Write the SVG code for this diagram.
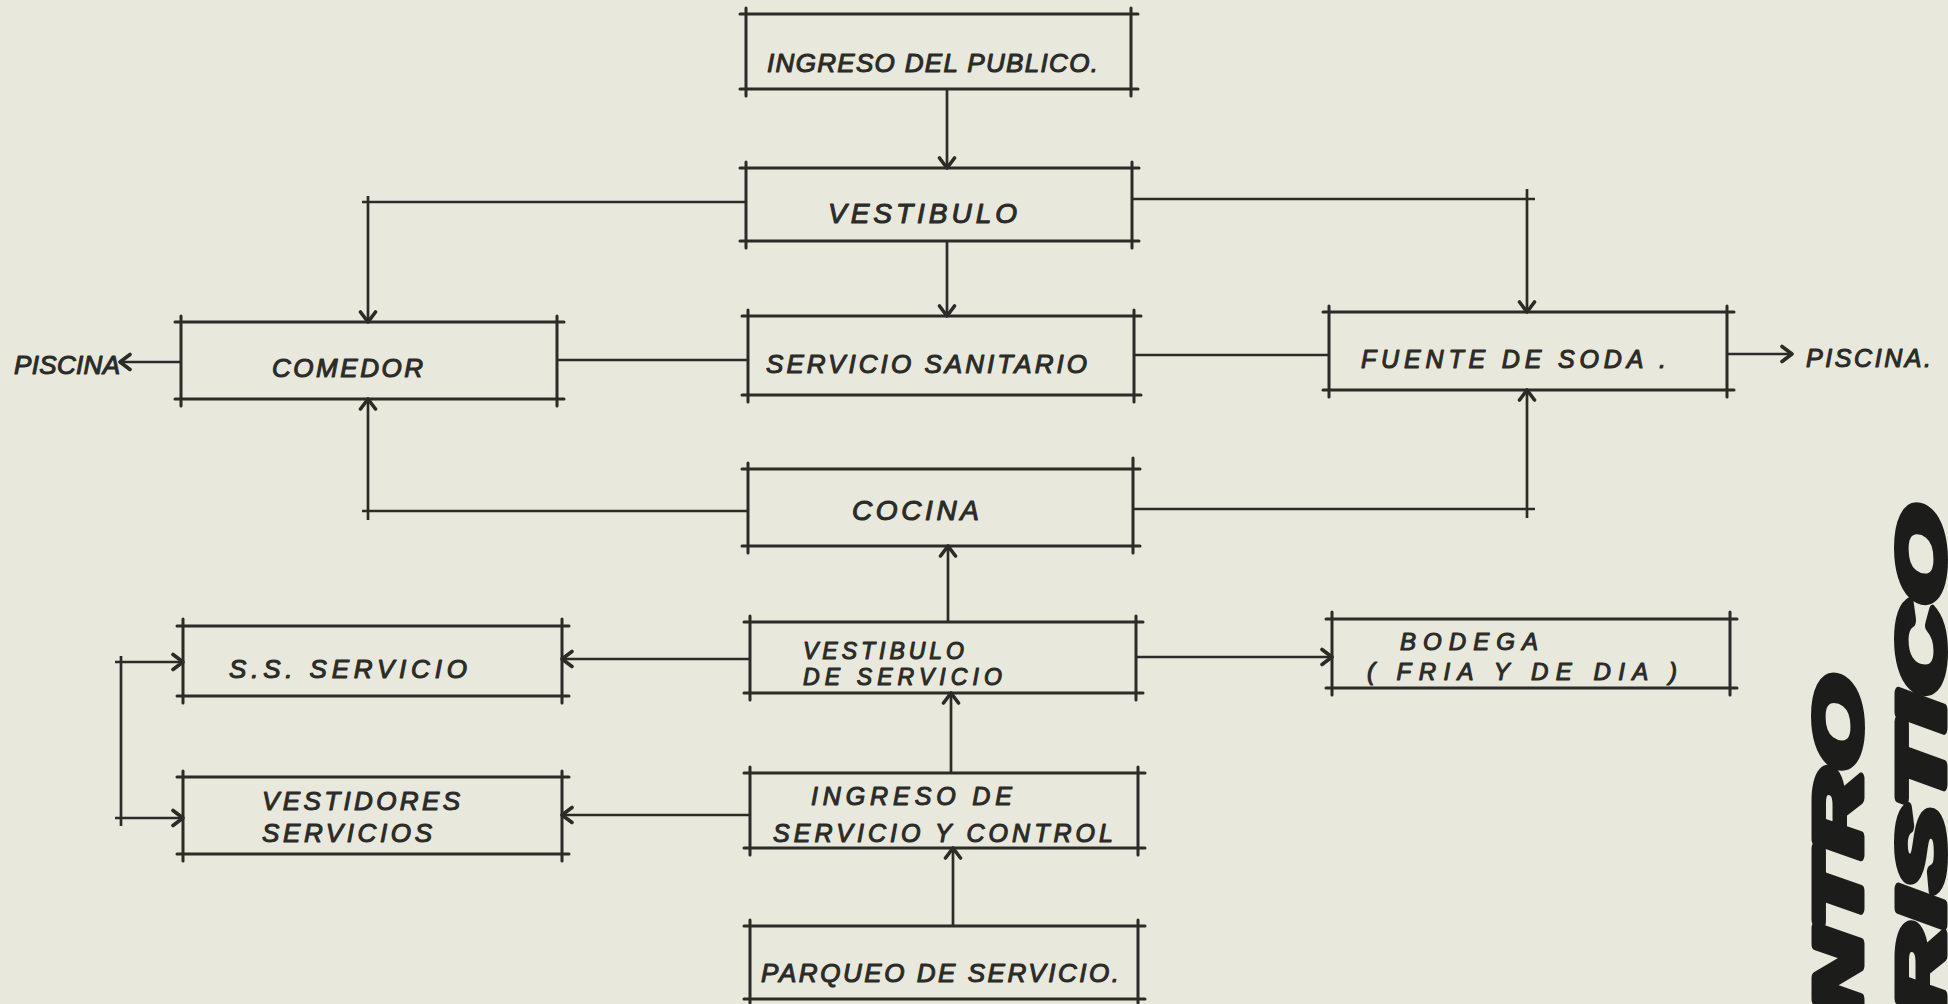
<svg xmlns="http://www.w3.org/2000/svg" width="1948" height="1004" viewBox="0 0 1948 1004">
<style>
.bg{fill:#e9e8dc}
.box{fill:none;stroke:#2b2b28;stroke-width:3;stroke-linecap:round}
.con{fill:none;stroke:#2b2b28;stroke-width:2.7}
.t{font-family:"Liberation Sans",Arial,sans-serif;font-style:italic;fill:#2b2b28;stroke:#2b2b28;stroke-width:1.1;stroke-linejoin:round}
.big{font-family:"Liberation Sans",Arial,sans-serif;font-style:italic;font-weight:bold;fill:#1c1c1a;stroke:#1c1c1a;stroke-width:7;stroke-linejoin:round}
</style>
<defs>
<marker id="ah" viewBox="-14 -10 16 20" refX="0" refY="0" markerWidth="16" markerHeight="20" markerUnits="userSpaceOnUse" orient="auto">
<path d="M-10,-7.5 L0,0 L-10,7.5" fill="none" stroke="#2b2b28" stroke-width="3.6" stroke-linecap="round" stroke-linejoin="round"/>
</marker>
</defs>
<rect class="bg" x="0" y="0" width="1948" height="1004"/>

<g id="connectors">
<path class="con" d="M947,89 V168" marker-end="url(#ah)"/>
<path class="con" d="M947,241 V316" marker-end="url(#ah)"/>
<path class="con" d="M746,202 H362"/>
<path class="con" d="M368,196 V322" marker-end="url(#ah)"/>
<path class="con" d="M1132,199 H1535"/>
<path class="con" d="M1527,189 V312" marker-end="url(#ah)"/>
<path class="con" d="M557,360 H748"/>
<path class="con" d="M1134,355 H1329"/>
<path class="con" d="M181,362 H120" marker-end="url(#ah)"/>
<path class="con" d="M1727,354 H1792" marker-end="url(#ah)"/>
<path class="con" d="M748,511 H362"/>
<path class="con" d="M368,520 V399" marker-end="url(#ah)"/>
<path class="con" d="M1133,509 H1535"/>
<path class="con" d="M1527,518 V390" marker-end="url(#ah)"/>
<path class="con" d="M948,622 V546" marker-end="url(#ah)"/>
<path class="con" d="M750,659 H562" marker-end="url(#ah)"/>
<path class="con" d="M1136,657 H1332" marker-end="url(#ah)"/>
<path class="con" d="M951,773 V693" marker-end="url(#ah)"/>
<path class="con" d="M750,815 H562" marker-end="url(#ah)"/>
<path class="con" d="M953,926 V848" marker-end="url(#ah)"/>
<path class="con" d="M121,656 V826"/>
<path class="con" d="M115,662 H183" marker-end="url(#ah)"/>
<path class="con" d="M115,818 H183" marker-end="url(#ah)"/>
</g>

<g id="n-ingreso-publico">
<path class="box" d="M740,14 H1138 M740,89 H1138 M746,8 V96 M1131,8 V96"/>
<text class="t" x="767" y="72" font-size="26" textLength="331" lengthAdjust="spacing">INGRESO DEL PUBLICO.</text>
</g>
<g id="n-vestibulo">
<path class="box" d="M740,168 H1139 M740,241 H1139 M746,162 V248 M1132,162 V248"/>
<text class="t" x="828" y="223" font-size="28" textLength="189" lengthAdjust="spacing">VESTIBULO</text>
</g>
<g id="n-comedor">
<path class="box" d="M175,322 H564 M175,399 H564 M181,316 V406 M557,316 V406"/>
<text class="t" x="272" y="377" font-size="26" textLength="151" lengthAdjust="spacing">COMEDOR</text>
</g>
<g id="n-piscina-izq">
<text class="t" x="14" y="374" font-size="26" textLength="106" lengthAdjust="spacing">PISCINA</text>
</g>
<g id="n-servicio-sanitario">
<path class="box" d="M742,316 H1141 M742,395 H1141 M748,310 V402 M1134,310 V402"/>
<text class="t" x="766" y="373" font-size="26" textLength="321" lengthAdjust="spacing">SERVICIO  SANITARIO</text>
</g>
<g id="n-fuente-soda">
<path class="box" d="M1323,312 H1734 M1323,390 H1734 M1329,306 V397 M1727,306 V397"/>
<text class="t" x="1361" y="368" font-size="25" textLength="305" lengthAdjust="spacing">FUENTE  DE  SODA  .</text>
</g>
<g id="n-piscina-der">
<text class="t" x="1806" y="367" font-size="25" textLength="125" lengthAdjust="spacing">PISCINA.</text>
</g>
<g id="n-cocina">
<path class="box" d="M742,469 H1140 M742,546 H1140 M748,463 V553 M1133,458 V553"/>
<text class="t" x="852" y="520" font-size="28" textLength="127" lengthAdjust="spacing">COCINA</text>
</g>
<g id="n-ss-servicio">
<path class="box" d="M177,626 H569 M177,696 H569 M183,619 V703 M562,619 V703"/>
<text class="t" x="229" y="678" font-size="26" textLength="238" lengthAdjust="spacing">S.S.  SERVICIO</text>
</g>
<g id="n-vestibulo-servicio">
<path class="box" d="M744,622 H1143 M744,693 H1143 M750,616 V700 M1136,616 V700"/>
<text class="t" x="803" y="659" font-size="23" textLength="161" lengthAdjust="spacing">VESTIBULO</text>
<text class="t" x="803" y="685" font-size="23" textLength="199" lengthAdjust="spacing">DE  SERVICIO</text>
</g>
<g id="n-bodega">
<path class="box" d="M1326,619 H1737 M1326,688 H1737 M1332,612 V695 M1730,612 V695"/>
<text class="t" x="1400" y="650" font-size="24" textLength="138" lengthAdjust="spacing">BODEGA</text>
<text class="t" x="1367" y="680" font-size="24" textLength="310" lengthAdjust="spacing">(  FRIA  Y  DE  DIA  )</text>
</g>
<g id="n-vestidores">
<path class="box" d="M177,777 H569 M177,854 H569 M183,771 V861 M562,771 V861"/>
<text class="t" x="262" y="810" font-size="26" textLength="198" lengthAdjust="spacing">VESTIDORES</text>
<text class="t" x="262" y="842" font-size="26" textLength="170" lengthAdjust="spacing">SERVICIOS</text>
</g>
<g id="n-ingreso-servicio">
<path class="box" d="M744,773 H1145 M744,848 H1145 M750,767 V855 M1138,767 V855"/>
<text class="t" x="811" y="805" font-size="25" textLength="201" lengthAdjust="spacing">INGRESO  DE</text>
<text class="t" x="773" y="842" font-size="25" textLength="340" lengthAdjust="spacing">SERVICIO  Y  CONTROL</text>
</g>
<g id="n-parqueo">
<path class="box" d="M744,926 H1145 M744,999 H1145 M750,920 V1006 M1138,920 V1006"/>
<text class="t" x="761" y="982" font-size="26" textLength="358" lengthAdjust="spacing">PARQUEO  DE  SERVICIO.</text>
</g>

<g id="titulo">
<text class="big" transform="translate(1861,677) rotate(-90)" x="0" y="0" font-size="66" text-anchor="end" textLength="340" lengthAdjust="spacingAndGlyphs">NTRO</text>
<text class="big" transform="translate(1944,507) rotate(-90)" x="0" y="0" font-size="66" text-anchor="end" textLength="510" lengthAdjust="spacingAndGlyphs">RISTICO</text>
</g>
</svg>
